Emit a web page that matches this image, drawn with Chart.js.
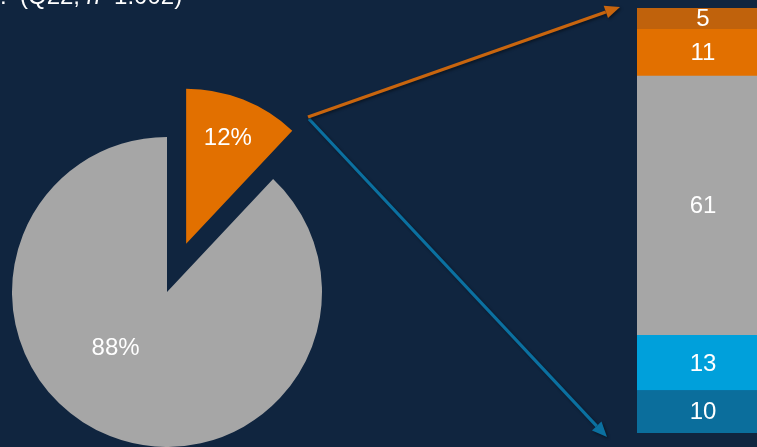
<!DOCTYPE html>
<html>
<head>
<meta charset="utf-8">
<script src="https://cdn.jsdelivr.net/npm/chart.js@4/dist/chart.umd.min.js"></script>
<style>
  html, body { margin: 0; padding: 0; }
  body {
    width: 757px; height: 447px; overflow: hidden; position: relative;
    background: #10253F;
    font-family: "Liberation Sans", Arial, sans-serif;
  }
  canvas { position: absolute; }
  #pieChart { left: 0; top: 0; }
  #barChart { left: 637px; top: 8px; }
  #title {
    position: absolute; left: 0; top: -16px; z-index: 2;
    color: #fff; font-size: 24px; line-height: 24px; white-space: nowrap;
  }
</style>
</head>
<body>
<canvas id="pieChart" width="757" height="447"></canvas>
<canvas id="barChart" width="132" height="425"></canvas>
<div id="title">:&nbsp; (Q22, <i>n</i>=1.002)</div>
<script>
// pie: share in %
var pieLabels = ['selected', 'other'];
var pieValues = [12, 88];
var pieColors = ['#E27000', '#A6A6A6'];

// breakdown of the selected share, listed top to bottom
var barLabels = ['top', 'upper', 'middle', 'lower', 'bottom'];
var barValues = [5, 11, 61, 13, 10];
var barColors = ['#C0620C', '#E27000', '#A6A6A6', '#00A0DB', '#0B6E9C'];

// how far each slice is pulled out, and where its label sits
var pieExplode = [52, 0];
var pieLabelRadius = [0.73, 0.49];
var pieLabelTurn = [0, 21];

Chart.defaults.font.family = '"Liberation Sans", Arial, sans-serif';

function drawArrow(ctx, x1, y1, x2, y2, color) {
  var ang = Math.atan2(y2 - y1, x2 - x1);
  var head = 15, half = 6.5;
  var bx = x2 - Math.cos(ang) * head, by = y2 - Math.sin(ang) * head;
  ctx.save();
  ctx.shadowColor = 'rgba(0, 0, 0, 0.45)';
  ctx.shadowBlur = 3;
  ctx.shadowOffsetX = 1.5;
  ctx.shadowOffsetY = 1.5;
  ctx.strokeStyle = color;
  ctx.fillStyle = color;
  ctx.lineWidth = 3.2;
  ctx.beginPath();
  ctx.moveTo(x1, y1);
  ctx.lineTo(bx, by);
  ctx.stroke();
  ctx.beginPath();
  ctx.moveTo(x2, y2);
  ctx.lineTo(bx + Math.sin(ang) * half, by - Math.cos(ang) * half);
  ctx.lineTo(bx - Math.sin(ang) * half, by + Math.cos(ang) * half);
  ctx.closePath();
  ctx.fill();
  ctx.restore();
}

var pieExtras = {
  id: 'pieExtras',
  afterDatasetsUpdate: function (chart) {
    chart.getDatasetMeta(0).data.forEach(function (arc, i) {
      var d = pieExplode[i];
      if (!d) return;
      var mid = (arc.startAngle + arc.endAngle) / 2;
      arc.x += Math.cos(mid) * d;
      arc.y += Math.sin(mid) * d;
    });
  },
  afterDatasetsDraw: function (chart) {
    var ctx = chart.ctx;
    ctx.save();
    ctx.fillStyle = '#fff';
    ctx.font = '24px "Liberation Sans", Arial, sans-serif';
    ctx.textAlign = 'center';
    ctx.textBaseline = 'middle';
    chart.getDatasetMeta(0).data.forEach(function (arc, i) {
      var a = (arc.startAngle + arc.endAngle) / 2 + pieLabelTurn[i] * Math.PI / 180;
      var r = arc.outerRadius * pieLabelRadius[i];
      ctx.fillText(pieValues[i] + '%', arc.x + Math.cos(a) * r, arc.y + Math.sin(a) * r);
    });
    ctx.restore();
  },
  afterDraw: function (chart) {
    var ctx = chart.ctx;
    drawArrow(ctx, 309, 119, 607, 437, '#0B70A0');
    drawArrow(ctx, 308, 117, 620, 7, '#C8650E');
  }
};

new Chart(document.getElementById('pieChart'), {
  type: 'pie',
  data: {
    labels: pieLabels,
    datasets: [{
      data: pieValues,
      backgroundColor: pieColors,
      borderWidth: 0,
      clip: false
    }]
  },
  options: {
    responsive: false,
    animation: false,
    events: [],
    radius: 155,
    layout: { padding: { left: 0, right: 423, top: 137, bottom: 0 } },
    plugins: { legend: { display: false }, tooltip: { enabled: false } }
  },
  plugins: [pieExtras]
});

var barValueLabels = {
  id: 'barValueLabels',
  afterDatasetsDraw: function (chart) {
    var ctx = chart.ctx;
    ctx.save();
    ctx.fillStyle = '#fff';
    ctx.font = '24px "Liberation Sans", Arial, sans-serif';
    ctx.textAlign = 'center';
    ctx.textBaseline = 'middle';
    chart.data.datasets.forEach(function (ds, i) {
      chart.getDatasetMeta(i).data.forEach(function (bar) {
        ctx.fillText(ds.data[0], bar.x, (bar.y + bar.base) / 2 + 1);
      });
    });
    ctx.restore();
  }
};

// stacked bottom-up, so the list is reversed
var barDatasets = barValues.map(function (v, i) {
  return {
    label: barLabels[i],
    data: [v],
    backgroundColor: barColors[i],
    borderWidth: 0,
    barPercentage: 1,
    categoryPercentage: 1
  };
}).reverse();

new Chart(document.getElementById('barChart'), {
  type: 'bar',
  data: { labels: [''], datasets: barDatasets },
  options: {
    responsive: false,
    animation: false,
    events: [],
    layout: { padding: 0 },
    scales: {
      x: { stacked: true, display: false },
      y: { stacked: true, display: false, min: 0, max: 100 }
    },
    plugins: { legend: { display: false }, tooltip: { enabled: false } }
  },
  plugins: [barValueLabels]
});
</script>
</body>
</html>
